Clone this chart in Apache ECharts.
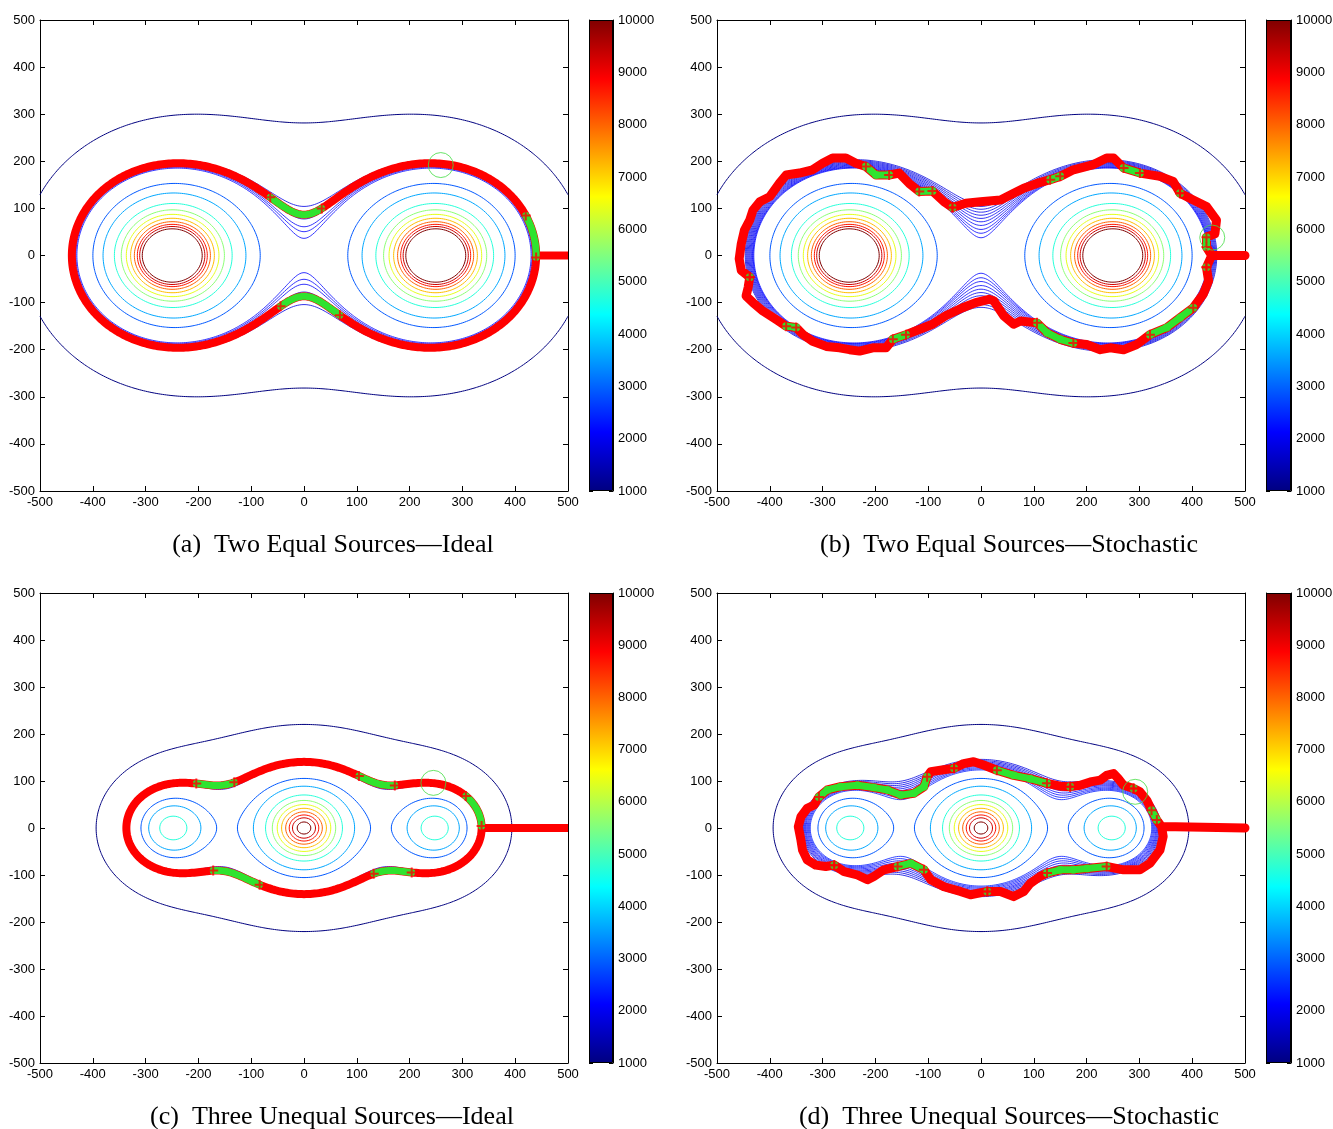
<!DOCTYPE html>
<html>
<head>
<meta charset="utf-8">
<title>Source seeking contours</title>
<script src="https://cdn.jsdelivr.net/npm/echarts@6.0.0/dist/echarts.min.js"></script>
<style>
  html, body { margin: 0; padding: 0; background: #fff; }
  #main { width: 1333px; height: 1129px; }
</style>
</head>
<body>
<div id="main"></div>
<script>
// ---- field sources: position, strength K, core radius a  (f = K / (r^2 + a^2))
const twoSrcX = [-250, 250];
const twoSrcY = [0, 0];
const twoSrcK = [7.3e7, 7.3e7];
const twoSrcA = [65.6, 65.6];

const threeSrcX = [-250, 0, 250];
const threeSrcY = [0, 0, 0];
const threeSrcK = [1.78e7, 3.6e7, 1.78e7];
const threeSrcA = [61, 60.3, 61];

// ---- contour levels
const contourLevels = [1000, 2900, 3600, 4700, 5600, 6400, 7200, 8000, 8700, 9300, 10000];
const bandA = [1880, 1950, 2005, 2070, 2105, 2143];
const bandB = [1850, 1880, 1910, 1940, 1970, 2000, 2030, 2060, 2090, 2115, 2140];
const bandC = [1870, 1920, 1990, 2060];
const bandD = [1850, 1900, 1950, 2000, 2050, 2100, 2160, 2220, 2280, 2340];

// ideal runs follow one iso-level
const pathLevelA = 1965;
const pathLevelC = 1950;
// parts of the ideal run marked green: [xmin, xmax, ymin, ymax]
const greenBoxA = [[-64, 34, 0, 300], [-46, 68, -300, 0], [400, 450, -5, 85]];
const greenBoxC = [[-205, -132, 0, 300], [104, 174, 0, 300], [-174, -82, -300, 0], [129, 207, -300, 0], [300, 345, 2, 68]];

// ---- stochastic runs (b) and (d); 1 = green marker
const bPathX = [500, 437, 427, 427, 443, 446, 427, 402, 377, 364, 339, 301, 270, 251, 238, 213, 175, 150, 131, 106,
  81, 62, 37, -1, -29, -54, -70, -92, -117, -136, -155, -174, -199, -218, -237, -256, -281, -300, -319, -344,
  -369, -382, -400, -419, -432, -438, -448, -454, -458, -454, -438, -441, -445, -432, -413, -388, -369, -350, -337, -319,
  -293, -268, -249, -230, -205, -180, -167, -142, -117, -92, -67, -35, -10, 15, 24, 43, 62, 75, 106, 125,
  150, 175, 200, 226, 245, 270, 295, 320, 352, 377, 402, 421, 431, 427, 437];
const bPathY = [0, 0, 18, 39, 46, 75, 104, 118, 132, 157, 168, 175, 186, 207, 207, 193, 182, 168, 161, 153,
  143, 132, 118, 114, 111, 102, 114, 137, 136, 153, 175, 171, 171, 189, 196, 207, 207, 196, 182, 175,
  171, 153, 125, 114, 96, 75, 54, 25, -7, -32, -46, -68, -86, -100, -118, -136, -150, -153, -168, -182,
  -193, -196, -200, -203, -196, -196, -178, -168, -157, -146, -128, -111, -100, -93, -96, -128, -146, -139, -143, -164,
  -178, -186, -189, -200, -196, -200, -189, -168, -153, -132, -111, -82, -54, -25, 0];
const bGreen = [0, 0, 1, 1, 0, 0, 0, 0, 1, 0, 0, 1, 1, 0, 0, 0, 0, 1, 1, 0,
  0, 0, 0, 0, 0, 1, 0, 1, 1, 0, 0, 1, 1, 1, 0, 0, 0, 0, 0, 0,
  0, 0, 0, 0, 0, 0, 0, 0, 0, 0, 1, 0, 0, 0, 0, 0, 1, 1, 0, 0,
  0, 0, 0, 0, 0, 0, 1, 1, 0, 0, 0, 0, 0, 0, 0, 0, 0, 0, 1, 1,
  1, 1, 0, 0, 0, 0, 0, 1, 1, 1, 1, 0, 0, 1, 0];

const dPathX = [500, 342, 333, 323, 314, 301, 289, 270, 260, 251, 238, 226, 207, 188, 169, 150, 125, 93, 62, 30,
  5, -14, -33, -51, -77, -95, -102, -108, -127, -152, -177, -203, -234, -266, -291, -307, -316, -329, -341, -346,
  -341, -338, -329, -313, -294, -278, -259, -234, -215, -203, -184, -158, -133, -108, -95, -70, -39, -20, 12, 37,
  62, 81, 93, 112, 125, 150, 175, 201, 238, 270, 301, 320, 339, 345, 342];
const dPathY = [0, 3, 17, 38, 59, 77, 84, 91, 105, 116, 112, 102, 98, 91, 88, 89, 95, 105, 112, 123,
  134, 141, 137, 127, 123, 120, 109, 88, 74, 70, 81, 86, 91, 88, 81, 66, 49, 42, 24, 3,
  -26, -47, -68, -79, -82, -79, -93, -100, -110, -103, -89, -82, -75, -89, -110, -125, -135, -142, -135, -135,
  -146, -135, -118, -103, -96, -89, -89, -86, -82, -89, -89, -75, -47, -18, 3];
const dGreen = [0, 0, 1, 1, 0, 0, 1, 0, 0, 0, 0, 0, 0, 0, 1, 0, 1, 1, 1, 1,
  0, 0, 0, 1, 0, 0, 1, 1, 1, 1, 1, 1, 1, 1, 1, 1, 0, 0, 0, 0,
  0, 0, 0, 0, 0, 1, 0, 0, 0, 0, 0, 1, 1, 1, 0, 0, 0, 0, 1, 0,
  0, 0, 0, 0, 1, 1, 1, 1, 1, 0, 0, 0, 0, 0, 0];

// small target circles
const targetX = [259, 438, 245, 292];
const targetY = [192, 38, 96, 77];

const captions = [
  '(a)  Two Equal Sources\u2014Ideal',
  '(b)  Two Equal Sources\u2014Stochastic',
  '(c)  Three Unequal Sources\u2014Ideal',
  '(d)  Three Unequal Sources\u2014Stochastic'
];

const cbMin = 1000, cbMax = 10000, cbStep = 1000;

// ---- layout (pixels)
const layout = [
  { plot: [40, 20, 528, 471], bar: [589, 20, 24, 471], cap: [333, 545] },
  { plot: [717, 20, 528, 471], bar: [1266, 20, 25, 471], cap: [1009, 545] },
  { plot: [40, 593, 528, 470], bar: [589, 593, 24, 470], cap: [332, 1117] },
  { plot: [717, 593, 528, 470], bar: [1266, 593, 25, 470], cap: [1009, 1117] }
];

const GRID_STEP = 4;
const RED = '#ff0000';
const GREEN = '#2fe32f';
const sansFont = 'Liberation Sans, Arial, Helvetica, sans-serif';

function jet (v) {
  const t = Math.min(1, Math.max(0, (v - cbMin) / (cbMax - cbMin)));
  const ch = x => Math.round(255 * Math.min(1, Math.max(0, x)));
  return 'rgb(' + ch(Math.min(4 * t - 1.5, -4 * t + 4.5)) + ',' +
    ch(Math.min(4 * t - 0.5, -4 * t + 3.5)) + ',' +
    ch(Math.min(4 * t + 0.5, -4 * t + 2.5)) + ')';
}

function sampleField (sx, sy, sk, sa) {
  const n = Math.round(1000 / GRID_STEP) + 1;
  const vals = new Float64Array(n * n);
  for (let j = 0; j < n; j++) {
    const y = -500 + j * GRID_STEP;
    for (let i = 0; i < n; i++) {
      const x = -500 + i * GRID_STEP;
      let s = 0;
      for (let k = 0; k < sx.length; k++) {
        const dx = x - sx[k], dy = y - sy[k];
        s += sk[k] / (dx * dx + dy * dy + sa[k] * sa[k]);
      }
      vals[j * n + i] = s;
    }
  }
  return { n, vals };
}

// marching squares, chained into polylines
function isolines (fd, level) {
  const n = fd.n, vals = fd.vals;
  const pts = new Map(), adj = new Map();
  const cx = i => -500 + i * GRID_STEP;
  function ep (key, x1, y1, v1, x2, y2, v2) {
    if (!pts.has(key)) {
      const t = (level - v1) / (v2 - v1);
      pts.set(key, [x1 + t * (x2 - x1), y1 + t * (y2 - y1)]);
      adj.set(key, []);
    }
    return key;
  }
  function link (a, b) { adj.get(a).push(b); adj.get(b).push(a); }
  for (let j = 0; j < n - 1; j++) {
    for (let i = 0; i < n - 1; i++) {
      const a = vals[j * n + i], b = vals[j * n + i + 1];
      const c = vals[(j + 1) * n + i + 1], d = vals[(j + 1) * n + i];
      const A = a >= level, B = b >= level, C = c >= level, D = d >= level;
      if (A === B && B === C && C === D) continue;
      const x0 = cx(i), x1 = cx(i + 1), y0 = cx(j), y1 = cx(j + 1);
      const k = [];
      if (A !== B) k[0] = ep('h' + i + '_' + j, x0, y0, a, x1, y0, b);
      if (B !== C) k[1] = ep('v' + (i + 1) + '_' + j, x1, y0, b, x1, y1, c);
      if (D !== C) k[2] = ep('h' + i + '_' + (j + 1), x0, y1, d, x1, y1, c);
      if (A !== D) k[3] = ep('v' + i + '_' + j, x0, y0, a, x0, y1, d);
      const found = [0, 1, 2, 3].filter(q => k[q] !== undefined);
      if (found.length === 2) link(k[found[0]], k[found[1]]);
      else if (found.length === 4) {
        const centre = (a + b + c + d) / 4 >= level;
        if (A === centre) { link(k[0], k[1]); link(k[2], k[3]); } else { link(k[3], k[0]); link(k[1], k[2]); }
      }
    }
  }
  const lines = [];
  function walk (start) {
    const line = [pts.get(start)];
    let cur = start;
    while (adj.get(cur).length) {
      const nxt = adj.get(cur).pop();
      const back = adj.get(nxt);
      back.splice(back.indexOf(cur), 1);
      line.push(pts.get(nxt));
      cur = nxt;
    }
    return line;
  }
  for (const [key, v] of adj) if (v.length === 1) lines.push(walk(key));
  for (const [key, v] of adj) if (v.length) lines.push(walk(key));
  return lines;
}

const plusSymbol = 'path://M4,0h2v4h4v2h-4v4h-2v-4h-4v-2h4z';

const panels = [
  { sx: twoSrcX, sy: twoSrcY, sk: twoSrcK, sa: twoSrcA, band: bandA, level: pathLevelA, boxes: greenBoxA },
  { sx: twoSrcX, sy: twoSrcY, sk: twoSrcK, sa: twoSrcA, band: bandB, px: bPathX, py: bPathY, pg: bGreen },
  { sx: threeSrcX, sy: threeSrcY, sk: threeSrcK, sa: threeSrcA, band: bandC, level: pathLevelC, boxes: greenBoxC },
  { sx: threeSrcX, sy: threeSrcY, sk: threeSrcK, sa: threeSrcA, band: bandD, px: dPathX, py: dPathY, pg: dGreen }
];

const option = {
  animation: false,
  backgroundColor: '#fff',
  grid: [],
  xAxis: [],
  yAxis: [],
  series: [],
  graphic: []
};

function plotAxis (gridIndex, position, labels) {
  return {
    gridIndex: gridIndex,
    type: 'value',
    position: position,
    min: -500,
    max: 500,
    interval: 100,
    axisLine: { show: true, onZero: false, lineStyle: { color: '#000', width: 1 } },
    axisTick: { show: true, inside: true, length: 5, lineStyle: { color: '#000', width: 1 } },
    axisLabel: { show: labels, margin: 5, showMinLabel: true, showMaxLabel: true, color: '#000', fontSize: 13, fontFamily: sansFont },
    splitLine: { show: false }
  };
}

const cbStops = [0, 0.125, 0.375, 0.625, 0.875, 1].map(t => ({ offset: t, color: jet(cbMin + t * (cbMax - cbMin)) }));

panels.forEach((p, idx) => {
  const L = layout[idx];
  // plot grid
  const gi = option.grid.length;
  option.grid.push({ left: L.plot[0], top: L.plot[1], width: L.plot[2], height: L.plot[3], containLabel: false, outerBoundsMode: 'none', show: false });
  const xb = option.xAxis.length;
  option.xAxis.push(plotAxis(gi, 'bottom', true), plotAxis(gi, 'top', false));
  const yl = option.yAxis.length;
  option.yAxis.push(plotAxis(gi, 'left', true), plotAxis(gi, 'right', false));

  // colour bar grid
  const gb = option.grid.length;
  option.grid.push({ left: L.bar[0], top: L.bar[1], width: L.bar[2], height: L.bar[3], containLabel: false, outerBoundsMode: 'none', show: false });
  const cbx = option.xAxis.length;
  option.xAxis.push({ gridIndex: gb, type: 'category', data: [''], show: false });
  const cby = option.yAxis.length;
  const cbAxis = (pos, labels) => ({
    gridIndex: gb, type: 'value', position: pos, min: cbMin, max: cbMax, interval: cbStep,
    axisLine: { show: true, onZero: false, lineStyle: { color: '#000', width: 1 } },
    axisTick: { show: true, inside: true, length: 4, lineStyle: { color: '#000' } },
    axisLabel: { show: labels, margin: 5, showMinLabel: true, showMaxLabel: true, color: '#000', fontSize: 13, fontFamily: sansFont,
      formatter: v => String(v) },
    splitLine: { show: false }
  });
  option.yAxis.push(cbAxis('right', true), cbAxis('left', false));
  option.series.push(
    { type: 'bar', xAxisIndex: cbx, yAxisIndex: cby, stack: 'cb' + idx, barWidth: '100%', silent: true,
      data: [cbMin], itemStyle: { color: 'rgba(0,0,0,0)' } },
    { type: 'bar', xAxisIndex: cbx, yAxisIndex: cby, stack: 'cb' + idx, barWidth: '100%', silent: true,
      data: [cbMax - cbMin],
      itemStyle: { color: { type: 'linear', x: 0, y: 1, x2: 0, y2: 0, colorStops: cbStops }, borderColor: '#000', borderWidth: 1 } }
  );

  // contours
  const fd = sampleField(p.sx, p.sy, p.sk, p.sa);
  const items = [];
  contourLevels.forEach(lv => {
    isolines(fd, lv).forEach(line => {
      if (line.length > 1) items.push({ coords: line, lineStyle: { color: jet(lv), width: 1 } });
    });
  });
  p.band.forEach(lv => {
    isolines(fd, lv).forEach(line => {
      if (line.length > 1) items.push({ coords: line, lineStyle: { color: jet(lv), width: 0.8 } });
    });
  });
  option.series.push({
    type: 'lines', coordinateSystem: 'cartesian2d', xAxisIndex: xb, yAxisIndex: yl,
    polyline: true, silent: true, z: 2, data: items,
    lineStyle: { width: 1, opacity: 1 }
  });

  const redItems = [];
  const greenItems = [];
  const greenDots = [];
  const crosses = [];

  if (p.level !== undefined) {
    const ring = isolines(fd, p.level);
    let edge = -Infinity;
    ring.forEach(line => line.forEach(pt => { if (Math.abs(pt[1]) < 8 && pt[0] > edge) edge = pt[0]; }));
    ring.forEach(line => redItems.push({ coords: line }));
    redItems.push({ coords: [[500, 0], [edge, 0]], lineStyle: { cap: 'butt' } });
    const inBox = pt => p.boxes.some(b => pt[0] >= b[0] && pt[0] <= b[1] && pt[1] >= b[2] && pt[1] <= b[3]);
    ring.forEach(line => {
      let run = [];
      line.forEach(pt => {
        if (inBox(pt)) run.push(pt);
        else { if (run.length > 1) greenItems.push({ coords: run }); run = []; }
      });
      if (run.length > 1) greenItems.push({ coords: run });
    });
    greenItems.forEach(g => { crosses.push(g.coords[0], g.coords[g.coords.length - 1]); });
  } else {
    const coords = p.px.map((x, i) => [x, p.py[i]]);
    redItems.push({ coords: coords });
    let run = [];
    coords.forEach((pt, i) => {
      if (p.pg[i]) { run.push(pt); greenDots.push(pt); } else {
        if (run.length) { crosses.push(run[0], run[run.length - 1]); }
        if (run.length > 1) greenItems.push({ coords: run });
        run = [];
      }
    });
  }

  option.series.push({
    type: 'lines', coordinateSystem: 'cartesian2d', xAxisIndex: xb, yAxisIndex: yl,
    polyline: true, silent: true, z: 3, data: redItems,
    lineStyle: { color: RED, width: p.level !== undefined ? 8 : 9, opacity: 1, cap: 'round', join: 'round' }
  });
  option.series.push({
    type: 'lines', coordinateSystem: 'cartesian2d', xAxisIndex: xb, yAxisIndex: yl,
    polyline: true, silent: true, z: 4, data: greenItems,
    lineStyle: { color: GREEN, width: 7, opacity: 1, cap: 'round', join: 'round' }
  });
  option.series.push({
    type: 'scatter', xAxisIndex: xb, yAxisIndex: yl, silent: true, z: 4,
    symbol: 'circle', symbolSize: 8, itemStyle: { color: GREEN }, data: greenDots
  });
  option.series.push({
    type: 'scatter', xAxisIndex: xb, yAxisIndex: yl, silent: true, z: 5,
    symbol: plusSymbol, symbolSize: 10, itemStyle: { color: RED }, data: crosses
  });
  option.series.push({
    type: 'scatter', xAxisIndex: xb, yAxisIndex: yl, silent: true, z: 6,
    symbol: 'circle', symbolSize: 25,
    itemStyle: { color: 'rgba(0,0,0,0)', borderColor: '#44dd44', borderWidth: 1 },
    data: [[targetX[idx], targetY[idx]]]
  });

  option.graphic.push({
    type: 'text', x: L.cap[0], y: L.cap[1], silent: true,
    style: {
      text: captions[idx], fill: '#000', fontSize: 26, fontFamily: 'Liberation Serif, Times New Roman, serif',
      align: 'center', verticalAlign: 'middle', textAlign: 'center', textVerticalAlign: 'middle'
    }
  });
});

const chart = echarts.init(document.getElementById('main'), null, { renderer: 'canvas' });
chart.setOption(option);
</script>
</body>
</html>
